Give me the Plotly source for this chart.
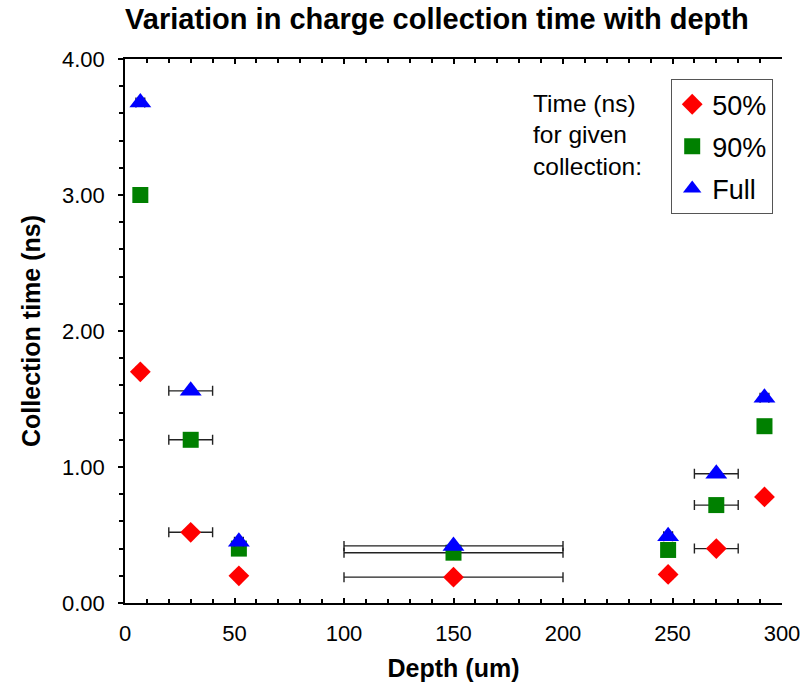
import plotly.graph_objects as go

depth = [7, 30, 52, 150, 248, 270, 292]
depth_err = [2, 10, 2, 50, 2, 10, 2]
t50 = [1.70, 0.52, 0.20, 0.19, 0.21, 0.40, 0.78]
t90 = [3.00, 1.20, 0.40, 0.37, 0.39, 0.72, 1.30]
tfull = [3.68, 1.56, 0.45, 0.42, 0.49, 0.95, 1.51]

FONT = "Liberation Sans, Arial, Helvetica, sans-serif"

series = [
    ("50%", t50, "diamond", "#ff0000", 16),
    ("90%", t90, "square", "#008000", 16),
    ("Full", tfull, "triangle-up", "#0000ff", 19),
]

fig = go.Figure()
for i, (name, vals, sym, col, sz) in enumerate(series):
    fig.add_trace(go.Scatter(
        x=depth, y=vals, mode="markers", name=name, legendgroup=name,
        marker=dict(symbol=sym, color=col, size=sz, line=dict(width=0)),
        error_x=dict(type="data", array=depth_err, visible=True,
                     color="#222222", thickness=1.4, width=5),
    ))

XR = [0, 300]
YR = [0, 4]
common_x = dict(range=XR, showgrid=False, zeroline=False, automargin=False)
common_y = dict(range=YR, showgrid=False, zeroline=False, automargin=False)

fig.update_layout(
    width=812, height=688,
    paper_bgcolor="white", plot_bgcolor="white",
    margin=dict(l=125, r=30, t=59, b=85, autoexpand=False),
    font=dict(family=FONT, color="black"),
    title=dict(text="Variation in charge collection time with depth",
               x=0.538, xref="container", xanchor="center",
               y=0.973, yref="container", yanchor="middle",
               font=dict(size=29, weight="bold", family=FONT)),
    xaxis=dict(**common_x, dtick=50, tick0=0, ticks="inside", ticklen=5,
               tickcolor="black", tickwidth=1.5,
               minor=dict(dtick=10, ticks="inside", ticklen=4, tickcolor="black"),
               showline=True, linecolor="black", linewidth=1.5, mirror="allticks",
               tickfont=dict(size=22), ticklabelstandoff=10,
               title=dict(text="Depth (um)", font=dict(size=25, weight="bold"), standoff=14)),
    xaxis2=dict(**common_x, overlaying="x", anchor="y", side="bottom", dtick=50, tick0=0,
                ticks="outside", ticklen=4, tickcolor="black", tickwidth=1.5,
                mirror="allticks", showline=False, showticklabels=False),
    yaxis=dict(**common_y, dtick=1, tick0=0, ticks="outside", ticklen=5,
               tickcolor="black", tickwidth=1.5, tickformat=".2f",
               minor=dict(dtick=0.2, ticks="outside", ticklen=4, tickcolor="black"),
               showline=True, linecolor="black", linewidth=1.5,
               tickfont=dict(size=22), ticklabelstandoff=9,
               title=dict(text="Collection time (ns)", font=dict(size=25, weight="bold"), standoff=14)),
    yaxis3=dict(**common_y, overlaying="y", anchor="x", side="left", dtick=1, tick0=0,
                ticks="inside", ticklen=4, tickcolor="black", tickwidth=1.5,
                showline=False, showticklabels=False),
    yaxis2=dict(**common_y, overlaying="y", anchor="x", side="right", dtick=1, tick0=0,
                ticks="inside", ticklen=5, tickcolor="black", tickwidth=1.5,
                minor=dict(dtick=0.2, ticks="inside", ticklen=4, tickcolor="black"),
                showline=True, linecolor="black", linewidth=1.5, showticklabels=False),
    yaxis4=dict(**common_y, overlaying="y", anchor="x", side="right", dtick=1, tick0=0,
                ticks="outside", ticklen=4, tickcolor="black", tickwidth=1.5,
                showline=False, showticklabels=False),
    legend=dict(x=(671 - 125) / 657, y=(603 - 79) / 544, xanchor="left", yanchor="top",
                bordercolor="#555555", borderwidth=1.2, bgcolor="white",
                font=dict(size=27), tracegroupgap=4, itemsizing="trace"),
    showlegend=True,
)

labels = ["Time (ns)", "for given", "collection:"]
for i, txt in enumerate(labels):
    fig.add_annotation(text=txt, xref="paper", yref="paper",
                       x=(531 - 125) / 657, y=(603 - (103 + 32 * i)) / 544,
                       xanchor="left", yanchor="middle", showarrow=False,
                       font=dict(size=24.5, family=FONT))

fig.write_html("out.html", config={"displayModeBar": False},
               post_script="document.body.style.margin='0px';document.body.style.overflow='hidden';")
